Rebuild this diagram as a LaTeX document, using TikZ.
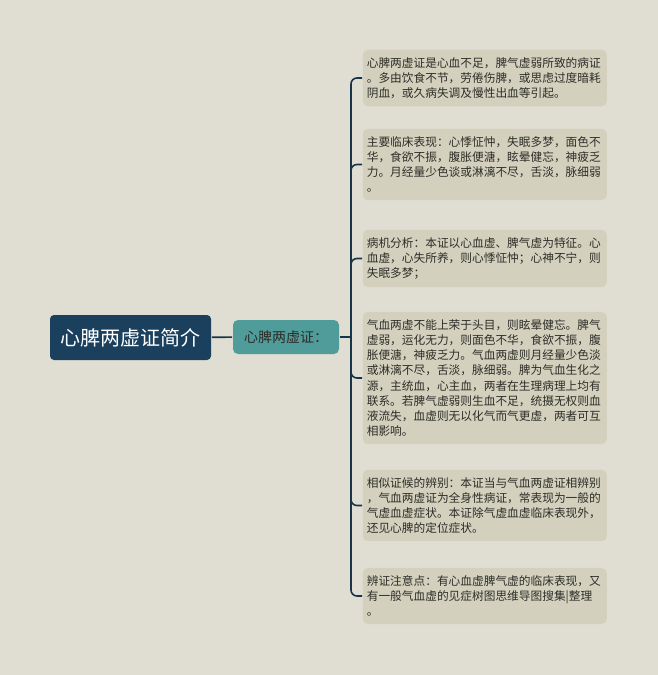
\documentclass[tikz,border=0pt]{standalone}
\usepackage{fontspec}
\setmainfont{Noto Sans CJK SC}
\usepackage{xcolor}
\usetikzlibrary{positioning,calc}
\definecolor{bgc}{RGB}{224,222,210}
\definecolor{rootc}{RGB}{27,64,94}
\definecolor{midc}{RGB}{80,156,154}
\definecolor{leafc}{RGB}{211,209,190}
\definecolor{linec}{RGB}{24,52,74}
\definecolor{txtc}{RGB}{45,45,40}

\begin{document}
\begin{tikzpicture}[x=1pt, y=-1pt, line width=1.6pt]
\tikzset{
  rootbox/.style={fill=rootc, text=white, rounded corners=4pt, minimum width=161pt,
    minimum height=45pt, font=\fontsize{20}{22}\selectfont},
  midbox/.style={fill=midc, text=txtc, rounded corners=5pt, minimum width=106pt,
    minimum height=34pt, font=\fontsize{14}{16}\selectfont},
  leafbox/.style={fill=leafc, text=txtc, rounded corners=5pt, anchor=west, align=left,
    text width=236pt, inner xsep=4pt, inner ysep=7.5pt, font=\fontsize{11.7}{15.2}\selectfont},
  conn/.style={draw=linec, rounded corners=6pt},
}
\fill[bgc] (0,0) rectangle (658,675);
\useasboundingbox (0,0) rectangle (658,675);

\node[rootbox] (root) at (130.5,337.5) {心脾两虚证简介};
\node[midbox]  (mid)  at (286,337) {心脾两虚证：};
\coordinate (hub) at (351,337);

% leaves
\node[leafbox] (leaf1) at (362,78) {心脾两虚证是心血不足，脾气虚弱所致的病证\\。多由饮食不节，劳倦伤脾，或思虑过度暗耗\\阴血，或久病失调及慢性出血等引起。};
\node[leafbox] (leaf2) at (362,164.5) {主要临床表现：心悸怔忡，失眠多梦，面色不\\华，食欲不振，腹胀便溏，眩晕健忘，神疲乏\\力。月经量少色谈或淋漓不尽，舌淡，脉细弱\\。};
\node[leafbox] (leaf3) at (362,258.5) {病机分析：本证以心血虚、脾气虚为特征。心\\血虚，心失所养，则心悸怔忡；心神不宁，则\\失眠多梦；};
\node[leafbox] (leaf4) at (362,378) {气血两虚不能上荣于头目，则眩晕健忘。脾气\\虚弱，运化无力，则面色不华，食欲不振，腹\\胀便溏，神疲乏力。气血两虚则月经量少色淡\\或淋漓不尽，舌淡，脉细弱。脾为气血生化之\\源，主统血，心主血，两者在生理病理上均有\\联系。若脾气虚弱则生血不足，统摄无权则血\\液流失，血虚则无以化气而气更虚，两者可互\\相影响。};
\node[leafbox] (leaf5) at (362,505.5) {相似证候的辨别：本证当与气血两虚证相辨别\\，气血两虚证为全身性病证，常表现为一般的\\气虚血虚症状。本证除气虚血虚临床表现外，\\还见心脾的定位症状。};
\node[leafbox] (leaf6) at (362,596) {辨证注意点：有心血虚脾气虚的临床表现，又\\有一般气血虚的见症树图思维导图搜集|整理\\。};

\draw[conn] (root) -- (mid);
\draw[conn] (mid) -- (hub);
\foreach \n in {1,...,6}
  \draw[conn] (hub) |- (leaf\n.west);
\end{tikzpicture}
\end{document}
